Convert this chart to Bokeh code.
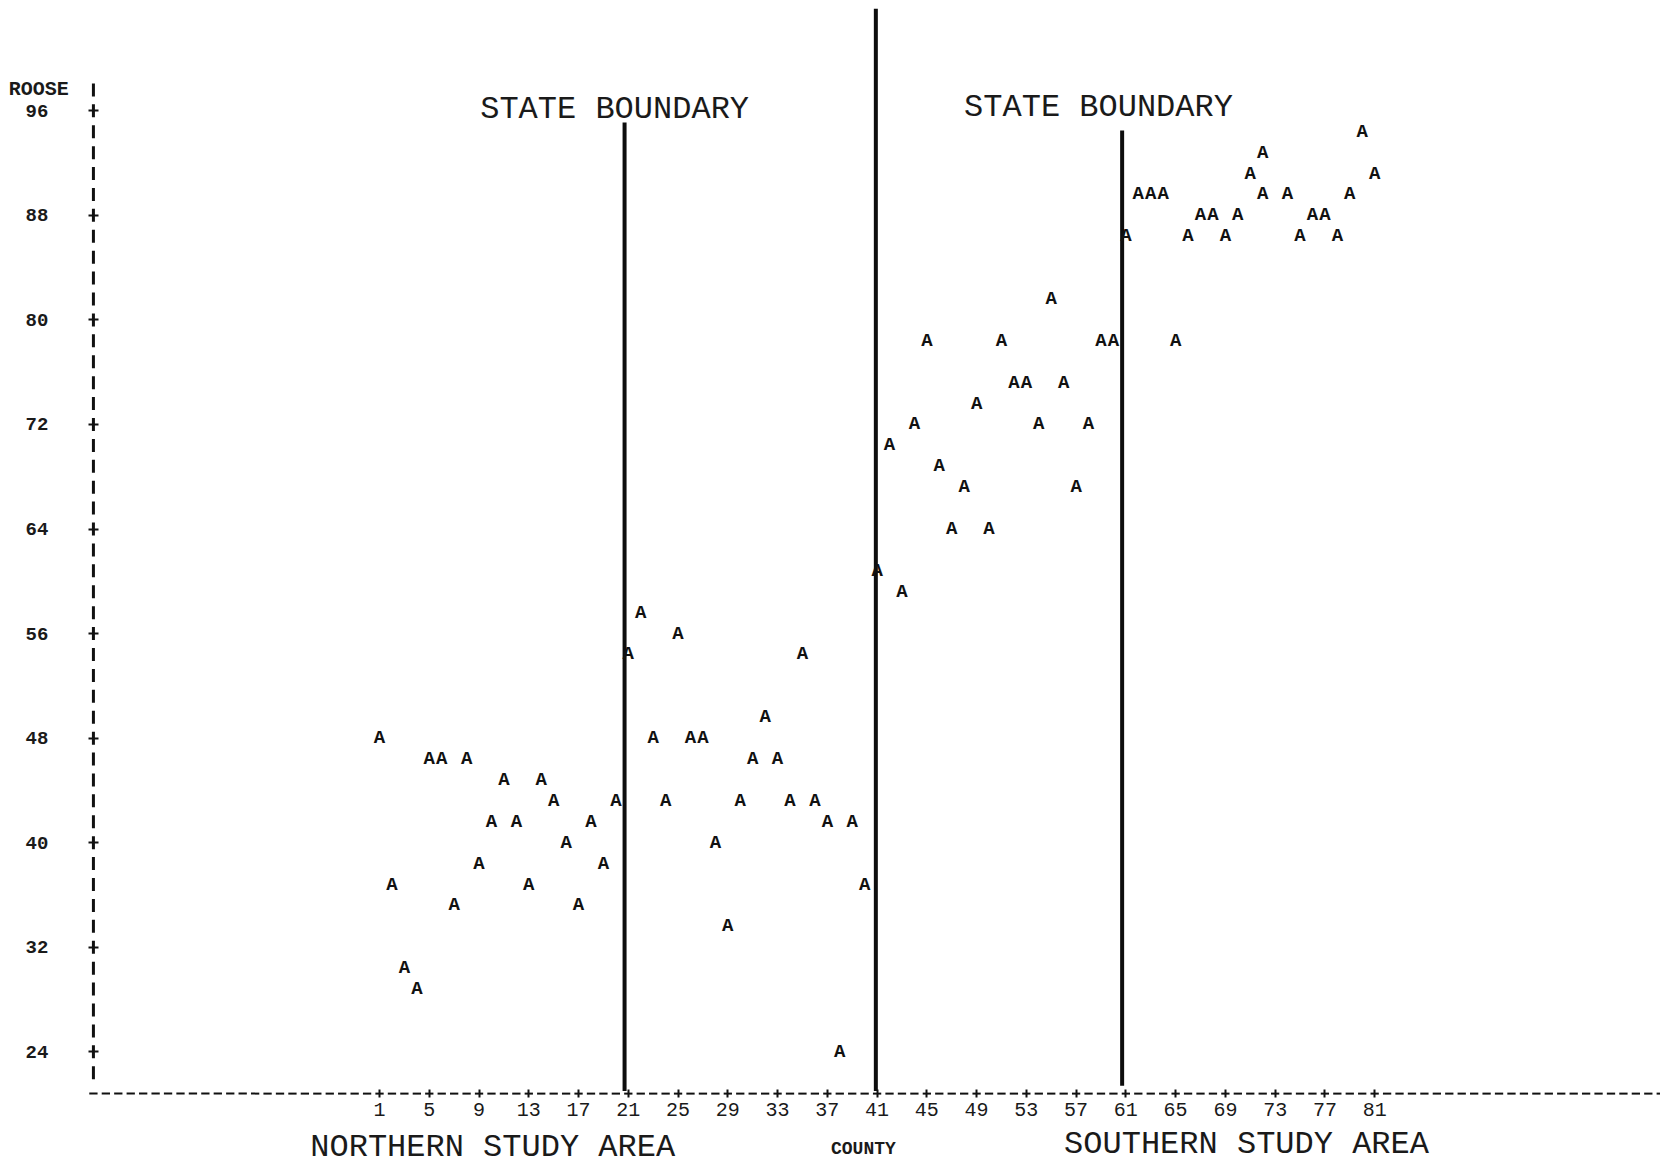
import numpy as np
from bokeh.plotting import figure
from bokeh.models import Range1d, LinearAxis, FixedTicker, Label, ColumnDataSource
from bokeh.core.properties import value
from bokeh.embed import file_html
from bokeh.resources import INLINE

# Roosevelt vote share (%) by county, counties numbered north to south
county = [1, 2, 3, 4, 5, 6, 7, 8, 9, 10,
          11, 12, 13, 14, 15, 16, 17, 18, 19, 20,
          21, 22, 23, 24, 25, 26, 27, 28, 29, 30,
          31, 32, 33, 34, 35, 36, 37, 38, 39, 40,
          41, 42, 43, 44, 45, 46, 47, 48, 49, 50,
          51, 52, 53, 54, 55, 56, 57, 58, 59, 60,
          61, 62, 63, 64, 65, 66, 67, 68, 69, 70,
          71, 72, 72, 74, 75, 76, 77, 78, 79, 80, 81]
roosevelt_pct = [48.0, 36.8, 30.4, 28.8, 46.4, 46.4, 35.2, 46.4, 38.4, 41.6,
                 44.8, 41.6, 36.8, 44.8, 43.2, 40.0, 35.2, 41.6, 38.4, 43.2,
                 54.4, 57.6, 48.0, 43.2, 56.0, 48.0, 48.0, 40.0, 33.6, 43.2,
                 46.4, 49.6, 46.4, 43.2, 54.4, 43.2, 41.6, 24.0, 41.6, 36.8,
                 60.8, 70.4, 59.2, 72.0, 78.4, 68.8, 64.0, 67.2, 73.6, 64.0,
                 78.4, 75.2, 75.2, 72.0, 81.6, 75.2, 67.2, 72.0, 78.4, 78.4,
                 86.4, 89.6, 89.6, 89.6, 78.4, 86.4, 88.0, 88.0, 86.4, 88.0,
                 91.2, 92.8, 89.6, 89.6, 86.4, 88.0, 88.0, 86.4, 89.6, 94.4, 91.2]

x_ticks = list(range(1, 82, 4))
y_ticks = list(range(24, 97, 8))

# state boundary lines between study areas
boundary_x = [20.7, 40.9, 60.7]
boundary_top = [95.1, 103.8, 94.5]
boundary_bottom = [21.0, 21.0, 21.4]

W, H = 1660, 1168
X0, X1 = -29.47, 103.98
Y0, Y1 = 15.07, 104.44
px_x = W / (X1 - X0)   # pixels per county column
px_y = H / (Y1 - Y0)   # pixels per percentage point
ROW = 1.6              # printer row height in percentage points
AXIS_COL = -22         # column of the vertical rule
AXIS_ROW = 20.8        # row of the horizontal rule

MONO = "Liberation Mono"
INK = "#111111"

p = figure(width=W, height=H,
           x_range=Range1d(X0, X1), y_range=Range1d(Y0, Y1),
           output_backend="svg", toolbar_location=None,
           x_axis_location=None, y_axis_location=None,
           min_border=0, outline_line_color=None,
           background_fill_color="white", border_fill_color="white")
p.xgrid.grid_line_color = None
p.ygrid.grid_line_color = None

# printer-style dashed rules: one dash per character cell
cols = np.arange(AXIS_COL, 106)
p.rect(x=cols, y=AXIS_ROW, width=8.3 / px_x, height=2, height_units="screen",
       fill_color=INK, line_color=None)
rows = AXIS_ROW + ROW * np.arange(1, 49)
p.rect(x=AXIS_COL, y=rows, width=3, width_units="screen", height=13.0 / px_y,
       fill_color=INK, line_color=None)

# horizontal county axis (ticks and labels)
xax = LinearAxis(fixed_location=AXIS_ROW,
                 ticker=FixedTicker(ticks=x_ticks, minor_ticks=[]))
xax.axis_line_color = None
xax.major_tick_in = 4
xax.major_tick_out = 4
xax.major_tick_line_width = 2
xax.major_tick_line_color = INK
xax.minor_tick_line_color = None
xax.major_label_text_font = MONO
xax.major_label_text_font_size = "20px"
xax.major_label_text_color = "#1a1a1a"
xax.major_label_standoff = 5
p.add_layout(xax, "below")

# vertical percentage axis (ticks and labels)
yax = LinearAxis(fixed_location=AXIS_COL,
                 ticker=FixedTicker(ticks=y_ticks, minor_ticks=[]))
yax.axis_line_color = None
yax.major_tick_in = 5
yax.major_tick_out = 5
yax.major_tick_line_width = 2
yax.major_tick_line_color = INK
yax.minor_tick_line_color = None
yax.major_label_text_font = MONO
yax.major_label_text_font_size = "19px"
yax.major_label_text_font_style = "bold"
yax.major_label_text_color = "#1a1a1a"
yax.major_label_standoff = 40
p.add_layout(yax, "left")

# boundary rules
p.segment(x0=boundary_x, y0=boundary_bottom, x1=boundary_x, y1=boundary_top,
          line_color="#0d0d0d", line_width=4)

# plotted points, printed as the letter A
src = ColumnDataSource(dict(county=county, pct=roosevelt_pct))
p.text(x="county", y="pct", text=value("A"), source=src,
       text_font=value(MONO), text_font_size=value("19px"),
       text_font_style="bold", text_align="center", text_baseline="middle",
       text_color=INK)

def add_label(x, y, text, size, style="normal", align="center"):
    p.add_layout(Label(x=x, y=y, text=text, text_font=MONO,
                       text_font_size=size, text_font_style=style,
                       text_align=align, text_baseline="middle",
                       text_color="#1a1a1a"))

add_label(-28.8, 97.6, "ROOSE", "20px", "bold", "left")
add_label(19.9, 96.1, "STATE BOUNDARY", "32px")
add_label(58.8, 96.25, "STATE BOUNDARY", "32px")
add_label(10.1, 16.7, "NORTHERN STUDY AREA", "32px")
add_label(39.9, 16.6, "COUNTY", "18px", "bold")
add_label(70.7, 16.9, "SOUTHERN STUDY AREA", "32px")

open("out.html", "w").write(file_html(p, INLINE))
